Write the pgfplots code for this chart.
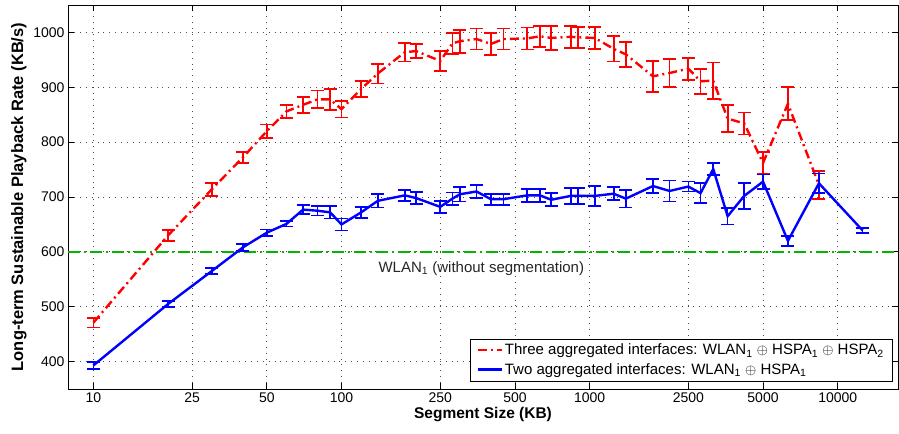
\documentclass[border=0pt]{standalone}
\usepackage{fontspec}
\setmainfont{Liberation Sans}
\usepackage{pgfplots}
\pgfplotsset{compat=1.18}
\usepackage{pgfplotstable}

\definecolor{mgreen}{rgb}{0,0.72,0}

\pgfplotstableread{
x y e
10 471 9
20 630 10
30 714 12
40 772 10
50 820 12
60 856 12
70 868 15
80 878 16
90 878 19
100 860 15
120 897 15
140 925 18
180 964 17
200 966 13
250 948 18
280 980 19
300 984 21
350 988 19
400 979 20
450 988 19
560 989 20
630 993 19
700 990 22
840 992 20
900 991 19
1050 990 20
1250 970 23
1400 960 23
1800 920 28
2100 926 26
2500 934 20
2800 911 23
3150 912 33
3600 843 25
4200 834 20
5000 762 20
6300 870 30
8400 722 25
}\redtable

\pgfplotstableread{
x y e
10 393 6
20 505 5
30 565 5
40 608 6
50 635 6
60 651 5
70 677 8
80 675 9
90 672 11
100 650 11
120 672 10
140 693 12
180 703 10
200 698 11
250 682 11
280 697 11
300 705 13
350 710 12
400 696 10
450 696 10
560 703 12
630 703 12
700 695 12
840 702 15
900 702 15
1050 702 18
1250 706 12
1400 697 16
1800 720 13
2100 711 19
2500 719 9
2800 707 18
3150 751 11
3600 665 15
4200 702 24
5000 728 13
6300 620 9
8400 725 18
12600 639 5
}\bluetable

\begin{document}
\begin{tikzpicture}
\begin{axis}[
  scale only axis, width=830bp, height=384bp,
  xmode=log, xmin=7.9, xmax=17500, ymin=350, ymax=1050,
  xtick={10,25,50,100,250,500,1000,2500,5000,10000},
  xticklabels={10,25,50,100,250,500,1000,2500,5000,10000},
  ytick={400,500,600,700,800,900,1000},
  xminorticks=false, yminorticks=false,
  grid=major, grid style={black!70, line width=0.8bp, dash pattern=on 0.9bp off 5bp},
  tick align=inside, major tick length=6bp,
  axis line style={line width=0.8bp},
  every tick/.style={black, line width=0.8bp},
  tick label style={font=\fontsize{14bp}{16bp}\selectfont},
  /pgf/number format/assume math mode=true,
  /pgf/number format/1000 sep={},
  xlabel={Segment Size (KB)},
  ylabel={Long-term Sustainable Playback Rate (KB/s)},
  label style={font=\fontsize{15.5bp}{18bp}\selectfont\bfseries},
  ylabel style={font=\fontsize{16.5bp}{18bp}\selectfont\bfseries},
  xlabel style={yshift=2bp},
  legend style={at={(rel axis cs:1,0)}, anchor=south east, xshift=-6bp, yshift=8bp,
    draw=black, fill=white, font=\fontsize{15bp}{17bp}\selectfont,
    inner xsep=6bp, inner ysep=3bp, row sep=3bp},
  legend cell align=left,
  legend image code/.code={\draw[#1] (0bp,0bp) -- (24bp,0bp);},
]
\addplot[mgreen, line width=2bp, dash pattern=on 12bp off 4bp on 2bp off 4bp, forget plot]
  coordinates {(7.9,600) (17500,600)};

\addplot[red, line width=2.4bp, dash pattern=on 9bp off 4bp on 2bp off 4bp,
  error bars/.cd, y dir=both, y explicit,
  error bar style={draw=red, color=red, solid, line width=1.8bp},
  error mark options={draw=red, color=red, rotate=90, mark size=6.5bp, solid, line width=1.8bp}]
  table[x=x, y=y, y error=e] {\redtable};

\addplot[blue, line width=2.4bp, solid,
  error bars/.cd, y dir=both, y explicit,
  error bar style={draw=blue, color=blue, solid, line width=1.7bp},
  error mark options={draw=blue, color=blue, rotate=90, mark size=6.5bp, solid, line width=1.7bp}]
  table[x=x, y=y, y error=e] {\bluetable};

\legend{Three aggregated interfaces: WLAN\textsubscript{1} $\oplus$ HSPA\textsubscript{1} $\oplus$ HSPA\textsubscript{2},
        Two aggregated interfaces: WLAN\textsubscript{1} $\oplus$ HSPA\textsubscript{1}}

\node[font=\fontsize{15bp}{17bp}\selectfont, text=black!85] at (axis cs:366,570)
  {WLAN\textsubscript{1} (without segmentation)};
\end{axis}
\pgfresetboundingbox
\path[use as bounding box] ([shift={(-68bp,-45bp)}]current axis.south west)
  rectangle ([shift={(1bp,5bp)}]current axis.north east);
\end{tikzpicture}
\end{document}
